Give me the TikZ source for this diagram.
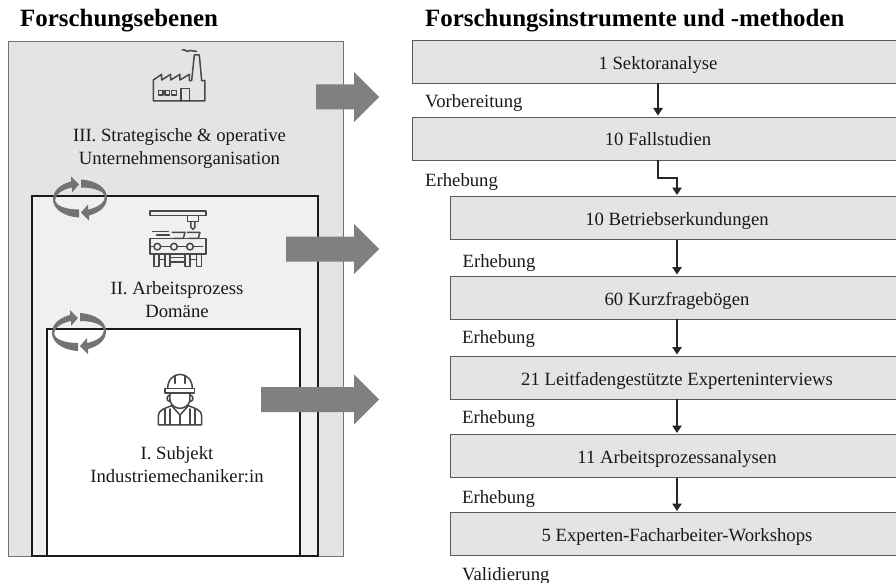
\documentclass[tikz,border=0pt]{standalone}
\usepackage{fontspec}
\setmainfont{Liberation Serif}
\usepackage{tikz}
\usetikzlibrary{arrows.meta}

\definecolor{levelthree}{HTML}{E4E4E4}
\definecolor{leveltwo}{HTML}{F0F0F0}
\definecolor{bigarrowgray}{HTML}{808080}
\definecolor{icongray}{HTML}{484848}

\tikzset{
  bodytext/.style={font=\fontsize{18.7}{23}\selectfont, text=black!90},
  heading/.style={font=\fontsize{24.9}{28}\selectfont\bfseries, anchor=base west, inner sep=0pt},
  phase/.style={bodytext, anchor=base west, inner sep=0pt},
  methodbox/.style={bodytext, draw=black!65, line width=0.9pt, fill=levelthree, minimum height=43pt, text height=15pt, text depth=0pt, inner sep=0pt, outer sep=0pt},
  wide/.style={minimum width=492pt},
  narrow/.style={minimum width=454pt},
  flow/.style={draw=black!85, line width=1.2pt, shorten >=1.5pt, -{Triangle[length=7.5pt,width=9.5pt]}},
  bigarrow/.style={fill=bigarrowgray},
  iconline/.style={draw=icongray, line width=1.5pt, line join=round, line cap=round},
  cyclearrows/.pic={
    \foreach \a in {0,180} {
      \fill[black!55, rotate=\a] (-1,19) .. controls (-17,18) and (-27,10) .. (-27,1)
        .. controls (-27,-8) and (-20,-14) .. (-9,-17) -- (-9,-22) -- (-1,-14) -- (-8,-6) -- (-8,-11)
        .. controls (-18,-9) and (-25,-4) .. (-25,2) .. controls (-24,7) and (-15,11) .. (-1,11) -- cycle;
    }
  }
}

\begin{document}
\begin{tikzpicture}[x=1pt, y=-1pt]
  \clip (0,0) rectangle (896,583);
  \fill[white] (0,0) rectangle (896,583);

  % Headings
  \node[heading] (headleft) at (20,27) {Forschungsebenen};
  \node[heading] (headright) at (425,27) {Forschungsinstrumente und -methoden};

  % Nested levels
  \draw[draw=black!55, line width=0.9pt, fill=levelthree] (8,41) rectangle (343,556);
  \draw[draw=black!90, line width=1.2pt, fill=leveltwo] (32,196) rectangle (318,556);
  \draw[draw=black!90, line width=1.2pt, fill=white] (47,329) rectangle (300,556);

  \node[bodytext, align=center] (levelthreetext) at (179.5,148.5) {III. Strategische \& operative\\Unternehmensorganisation};
  \node[bodytext, align=center] (leveltwotext) at (177,299.5) {II. Arbeitsprozess\\Domäne};
  \node[bodytext, align=center] (levelonetext) at (177,464.5) {I. Subjekt\\Industriemechaniker:in};

  % Factory icon
  \begin{scope}[shift={(130,40)}, x=0.3333pt, y=-0.3333pt, iconline]
    \draw (70,183) -- (70,120) -- (95,103) -- (95,120) -- (122,103) -- (122,120) -- (150,103) -- (150,120) -- (178,103) -- (178,122) -- (185,122) -- (193,45) -- (208,45) -- (215,122) -- (225,122) -- (225,183) -- cycle;
    \draw (153,183) -- (153,145) -- (178,145) -- (178,183);
    \foreach \x in {85,105,125} {
      \draw (\x,151) rectangle ++(14,14);
    }
    \draw (157,30) .. controls (165,25) and (168,38) .. (176,33) .. controls (184,27) and (190,38) .. (200,34);
  \end{scope}

  % Machine icon
  \begin{scope}[shift={(130,200)}, x=0.3333pt, y=-0.3333pt, iconline]
    \draw (60,33) rectangle (228,47);
    \draw (172,47) -- (172,65) -- (205,65) -- (205,47);
    \draw (183,65) -- (183,82) -- (189,88) -- (195,82) -- (195,65);
    \draw (127,97) -- (165,97) -- (160,115) -- (132,115);
    \draw (172,97) -- (210,97) -- (205,115) -- (178,115);
    \draw (68,95) -- (115,95) (80,105) -- (118,105);
    \draw (60,115) rectangle (228,162);
    \foreach \x in {82,132,180} {
      \draw (\x,140) circle (10);
      \draw (\x+10,140) -- (\x+38,140);
    }
    \draw (60,140) -- (72,140);
    \foreach \x in {72,105,165,200} {
      \draw (\x,162) -- (\x,200) -- (\x+15,200) -- (\x+15,162);
    }
    \draw (87,178) -- (105,178) (120,172) -- (165,172) (120,186) -- (165,186) (180,178) -- (200,178);
  \end{scope}

  % Worker icon
  \begin{scope}[shift={(130,365)}, x=0.3333pt, y=-0.3333pt, iconline]
    \draw (113,70) .. controls (113,45) and (130,28) .. (150,28) .. controls (170,28) and (187,45) .. (187,70);
    \draw (105,70) -- (193,70) -- (193,84) -- (105,84) -- cycle;
    \draw (135,32) -- (135,55) (165,32) -- (165,55);
    \draw (120,84) -- (120,105) .. controls (122,122) and (138,130) .. (150,130) .. controls (162,130) and (178,122) .. (180,105) -- (180,84);
    \draw (120,90) .. controls (108,92) and (108,108) .. (120,110) (180,90) .. controls (192,92) and (192,108) .. (180,110);
    \draw (85,180) -- (215,180) -- (215,152) .. controls (215,135) and (195,130) .. (175,122) -- (150,150) -- (125,122) .. controls (105,130) and (85,135) .. (85,152) -- cycle;
    \draw (150,150) -- (150,180);
    \foreach \x in {105,120,180,195} {
      \draw (\x,132) -- (\x,180);
    }
  \end{scope}

  % Rotating arrows between the levels
  \pic at (80,198.5) {cyclearrows};
  \pic at (79,332) {cyclearrows};

  % Arrows to the methods
  \foreach \x/\y in {316/97, 286/249, 261/399.5} {
    \fill[bigarrow] (\x,\y-12.5) -- (354,\y-12.5) -- (354,\y-25) -- (379,\y) -- (354,\y+25) -- (354,\y+12.5) -- (\x,\y+12.5) -- cycle;
  }

  % Method boxes
  \foreach \name/\kind/\x/\y/\txt in {
    sektor/wide/658/62/1 Sektoranalyse,
    fall/wide/658/138.5/10 Fallstudien,
    betrieb/narrow/677/218/10 Betriebserkundungen,
    kurz/narrow/677/297.5/60 Kurzfragebögen,
    leit/narrow/677/377.5/21 Leitfadengestützte Experteninterviews,
    arbeit/narrow/677/456/11 Arbeitsprozessanalysen,
    work/narrow/677/534/5 Experten-Facharbeiter-Workshops} {
    \node[methodbox, \kind] (\name) at (\x,\y) {\txt};
  }

  % Phase labels
  \foreach \name/\x/\y/\txt in {
    vor/425/108/Vorbereitung,
    erhA/425/186/Erhebung,
    erhB/462.5/267/Erhebung,
    erhC/462/343/Erhebung,
    erhD/462/423/Erhebung,
    erhE/462/503/Erhebung,
    val/462/580/Validierung} {
    \node[phase] (\name) at (\x,\y) {\txt};
  }

  % Connectors
  \draw[flow] (sektor) -- (fall);
  \draw[flow] (fall.south) |- (668,178) -| (betrieb.north);
  \draw[flow] (betrieb) -- (kurz);
  \draw[flow] (kurz) -- (leit);
  \draw[flow] (leit) -- (arbeit);
  \draw[flow] (arbeit) -- (work);
\end{tikzpicture}
\end{document}
